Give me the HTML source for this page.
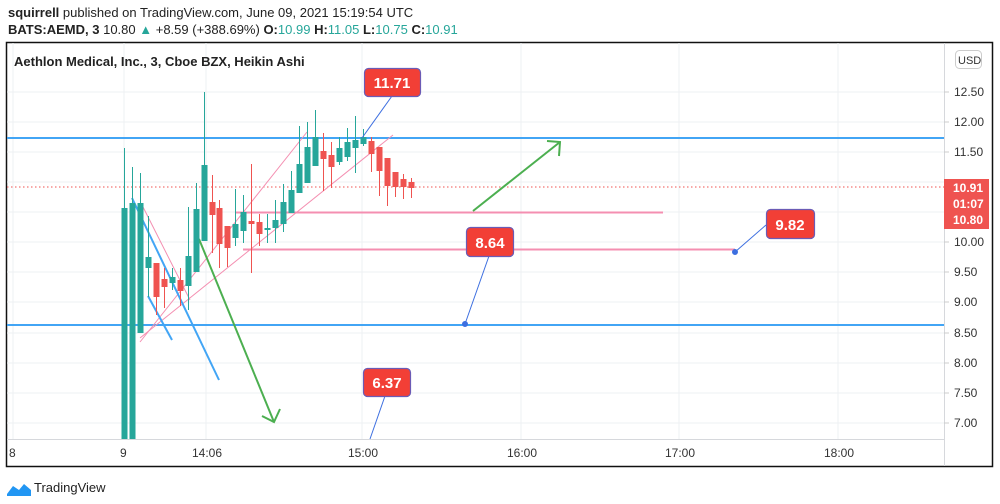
<!DOCTYPE html>
<html><head><meta charset="utf-8"><style>
html,body{margin:0;padding:0;background:#fff;width:1000px;height:504px;overflow:hidden;font-family:"Liberation Sans",sans-serif}
#c rect{stroke:none;width:6px}
#c line{stroke-width:1px}
</style></head><body>
<svg width="1000" height="504" xmlns="http://www.w3.org/2000/svg" font-family="Liberation Sans, sans-serif">
<text x="8" y="17" font-size="13" fill="#222"><tspan font-weight="bold">squirrell</tspan> published on TradingView.com, June 09, 2021 15:19:54 UTC</text>
<text x="8" y="34" font-size="13" fill="#222"><tspan font-weight="bold">BATS:AEMD, 3</tspan> 10.80 <tspan fill="#26a69a">▲</tspan> +8.59 (+388.69%) <tspan font-weight="bold">O:</tspan><tspan fill="#26a69a">10.99</tspan> <tspan font-weight="bold">H:</tspan><tspan fill="#26a69a">11.05</tspan> <tspan font-weight="bold">L:</tspan><tspan fill="#26a69a">10.75</tspan> <tspan font-weight="bold">C:</tspan><tspan fill="#26a69a">10.91</tspan></text>
<rect x="6.5" y="42.5" width="986" height="424" fill="#fff" stroke="#111" stroke-width="1.5"/>
<g stroke="#eef0f3" stroke-width="1">
<line x1="7" y1="92" x2="944" y2="92"/><line x1="7" y1="122" x2="944" y2="122"/><line x1="7" y1="152" x2="944" y2="152"/><line x1="7" y1="182" x2="944" y2="182"/><line x1="7" y1="212" x2="944" y2="212"/><line x1="7" y1="242" x2="944" y2="242"/><line x1="7" y1="272" x2="944" y2="272"/><line x1="7" y1="302" x2="944" y2="302"/><line x1="7" y1="333" x2="944" y2="333"/><line x1="7" y1="363" x2="944" y2="363"/><line x1="7" y1="393" x2="944" y2="393"/><line x1="7" y1="423" x2="944" y2="423"/>
<line x1="13" y1="43" x2="13" y2="439"/><line x1="124" y1="43" x2="124" y2="439"/><line x1="206" y1="43" x2="206" y2="439"/><line x1="362" y1="43" x2="362" y2="439"/><line x1="521" y1="43" x2="521" y2="439"/><line x1="679" y1="43" x2="679" y2="439"/><line x1="838" y1="43" x2="838" y2="439"/>
</g>
<line x1="7" y1="439.5" x2="944" y2="439.5" stroke="#d6d8dc"/>
<line x1="944.5" y1="43" x2="944.5" y2="466" stroke="#d6d8dc"/>
<g font-size="12" fill="#333">
<text x="9" y="457">8</text><text x="120" y="457">9</text><text x="192" y="457">14:06</text><text x="348" y="457">15:00</text><text x="507" y="457">16:00</text><text x="665" y="457">17:00</text><text x="824" y="457">18:00</text>
<text x="954" y="96">12.50</text><text x="954" y="126">12.00</text><text x="954" y="156">11.50</text><text x="954" y="246">10.00</text><text x="954" y="276">9.50</text><text x="954" y="306">9.00</text><text x="954" y="337">8.50</text><text x="954" y="367">8.00</text><text x="954" y="397">7.50</text><text x="954" y="427">7.00</text>
</g>
<g stroke="#ccc"><line x1="944" y1="92" x2="949" y2="92"/><line x1="944" y1="122" x2="949" y2="122"/><line x1="944" y1="152" x2="949" y2="152"/><line x1="944" y1="242" x2="949" y2="242"/><line x1="944" y1="272" x2="949" y2="272"/><line x1="944" y1="302" x2="949" y2="302"/><line x1="944" y1="333" x2="949" y2="333"/><line x1="944" y1="363" x2="949" y2="363"/><line x1="944" y1="393" x2="949" y2="393"/><line x1="944" y1="423" x2="949" y2="423"/></g>
<rect x="955.5" y="50.5" width="26" height="18" rx="4" fill="#fff" stroke="#ccc"/>
<text x="958" y="64" font-size="11" fill="#333">USD</text>
<rect x="944" y="179" width="45" height="50" fill="#ef5350"/>
<g font-size="12" font-weight="bold" fill="#fff"><text x="953" y="192">10.91</text><text x="953" y="208">01:07</text><text x="953" y="224">10.80</text></g>
<line x1="7" y1="187" x2="944" y2="187" stroke="#ef5350" stroke-dasharray="1.5,2.5" stroke-width="1"/>
<line x1="7" y1="138" x2="944" y2="138" stroke="#42a5f5" stroke-width="2"/>
<line x1="7" y1="325" x2="944" y2="325" stroke="#42a5f5" stroke-width="2"/>
<g stroke="#f48fb1" stroke-width="2"><line x1="235" y1="212.5" x2="663" y2="212.5"/><line x1="243" y1="249.5" x2="735" y2="249.5"/></g>
<g stroke="#f48fb1" stroke-width="1"><line x1="140" y1="342" x2="307" y2="132"/><line x1="140" y1="338" x2="393" y2="135"/><line x1="142" y1="205" x2="190" y2="300"/></g>
<g stroke="#42a5f5" stroke-width="2"><line x1="132" y1="198" x2="219" y2="380"/><line x1="148" y1="296" x2="172" y2="340"/></g>
<g stroke="#4caf50" stroke-width="2" fill="none"><line x1="199" y1="239" x2="274" y2="422"/><polyline points="262,416 274,422 280,409"/><line x1="473" y1="211" x2="560" y2="142"/><polyline points="547,141 560,142 559,156"/></g>
<g id="c">
<g stroke="#26a69a" fill="#26a69a">
<line x1="124.5" y1="148" x2="124.5" y2="439"/><rect x="121.5" y="208" width="7" height="231"/>
<line x1="132.5" y1="167" x2="132.5" y2="439"/><rect x="129.5" y="203" width="7" height="236"/>
<line x1="140.5" y1="173" x2="140.5" y2="333"/><rect x="137.5" y="203" width="7" height="130"/>
<line x1="148.5" y1="216" x2="148.5" y2="297"/><rect x="145.5" y="257" width="7" height="11"/>
<line x1="172.5" y1="268" x2="172.5" y2="290"/><rect x="169.5" y="277" width="7" height="6"/>
<line x1="188.5" y1="207" x2="188.5" y2="310"/><rect x="185.5" y="256" width="7" height="30"/>
<line x1="196.5" y1="183" x2="196.5" y2="272"/><rect x="193.5" y="209" width="7" height="63"/>
<line x1="204.5" y1="92" x2="204.5" y2="241"/><rect x="201.5" y="165" width="7" height="76"/>
<line x1="235.5" y1="189" x2="235.5" y2="246"/><rect x="232.5" y="224" width="7" height="14"/>
<line x1="243.5" y1="195" x2="243.5" y2="243"/><rect x="240.5" y="212" width="7" height="19"/>
<line x1="267.5" y1="214" x2="267.5" y2="243"/><rect x="264.5" y="228" width="7" height="2"/>
<line x1="275.5" y1="200" x2="275.5" y2="243"/><rect x="272.5" y="220" width="7" height="8"/>
<line x1="283.5" y1="184" x2="283.5" y2="232"/><rect x="280.5" y="202" width="7" height="22"/>
<line x1="291.5" y1="171" x2="291.5" y2="213"/><rect x="288.5" y="190" width="7" height="23"/>
<line x1="299.5" y1="126" x2="299.5" y2="193"/><rect x="296.5" y="164" width="7" height="29"/>
<line x1="307.5" y1="122" x2="307.5" y2="183"/><rect x="304.5" y="147" width="7" height="36"/>
<line x1="315.5" y1="110" x2="315.5" y2="166"/><rect x="312.5" y="137" width="7" height="29"/>
<line x1="339.5" y1="137" x2="339.5" y2="165"/><rect x="336.5" y="148" width="7" height="14"/>
<line x1="347.5" y1="128" x2="347.5" y2="161"/><rect x="344.5" y="142" width="7" height="15"/>
<line x1="355.5" y1="116" x2="355.5" y2="173"/><rect x="352.5" y="140" width="7" height="8"/>
<line x1="363.5" y1="129" x2="363.5" y2="146"/><rect x="360.5" y="137" width="7" height="7"/>
</g>
<g stroke="#ef5350" fill="#ef5350">
<line x1="156.5" y1="263" x2="156.5" y2="315"/><rect x="153.5" y="263" width="7" height="34"/>
<line x1="164.5" y1="268" x2="164.5" y2="308"/><rect x="161.5" y="279" width="7" height="8"/>
<line x1="180.5" y1="268" x2="180.5" y2="306"/><rect x="177.5" y="280" width="7" height="11"/>
<line x1="212.5" y1="175" x2="212.5" y2="253"/><rect x="209.5" y="202" width="7" height="13"/>
<line x1="219.5" y1="200" x2="219.5" y2="268"/><rect x="216.5" y="208" width="7" height="36"/>
<line x1="227.5" y1="226" x2="227.5" y2="267"/><rect x="224.5" y="226" width="7" height="22"/>
<line x1="251.5" y1="164" x2="251.5" y2="273"/><rect x="248.5" y="221" width="7" height="3"/>
<line x1="259.5" y1="214" x2="259.5" y2="246"/><rect x="256.5" y="222" width="7" height="12"/>
<line x1="323.5" y1="133" x2="323.5" y2="191"/><rect x="320.5" y="151" width="7" height="8"/>
<line x1="331.5" y1="142" x2="331.5" y2="188"/><rect x="328.5" y="155" width="7" height="12"/>
<line x1="371.5" y1="137" x2="371.5" y2="172"/><rect x="368.5" y="141" width="7" height="13"/>
<line x1="379.5" y1="147" x2="379.5" y2="196"/><rect x="376.5" y="147" width="7" height="24"/>
<line x1="387.5" y1="158" x2="387.5" y2="206"/><rect x="384.5" y="158" width="7" height="28"/>
<line x1="395.5" y1="172" x2="395.5" y2="197"/><rect x="392.5" y="172" width="7" height="15"/>
<line x1="403.5" y1="174" x2="403.5" y2="199"/><rect x="400.5" y="179" width="7" height="8"/>
<line x1="411.5" y1="178" x2="411.5" y2="198"/><rect x="408.5" y="182" width="7" height="6"/>
</g></g>
<g stroke="#3d6fe0" stroke-width="1" fill="#3d6fe0">
<line x1="392" y1="96" x2="362" y2="138"/>
<line x1="489" y1="256" x2="465" y2="324"/><circle cx="465" cy="324" r="2.5"/>
<line x1="766" y1="225" x2="735" y2="252"/><circle cx="735" cy="252" r="2.5"/>
<line x1="385" y1="396" x2="370" y2="439"/>
</g>
<g fill="#f23f36" stroke="#6b5bb5" stroke-width="1.2">
<rect x="364.5" y="68.5" width="56" height="28" rx="4"/>
<rect x="466.5" y="227.5" width="47" height="29" rx="4"/>
<rect x="766.5" y="209.5" width="48" height="29" rx="4"/>
<rect x="363.5" y="368.5" width="47" height="28" rx="4"/>
</g>
<g font-size="15" font-weight="bold" fill="#fff" text-anchor="middle">
<text x="392" y="88">11.71</text><text x="490" y="248">8.64</text><text x="790" y="230">9.82</text><text x="387" y="388">6.37</text>
</g>
<text x="14" y="66" font-size="13" font-weight="bold" fill="#222">Aethlon Medical, Inc., 3, Cboe BZX, Heikin Ashi</text>
<path d="M7,494 L13,486 L19,490 L24,484 L31,490 L31,496 L7,496 Z" fill="#2196f3"/>
<text x="34" y="492" font-size="13" fill="#222">TradingView</text>
</svg>
</body></html>
